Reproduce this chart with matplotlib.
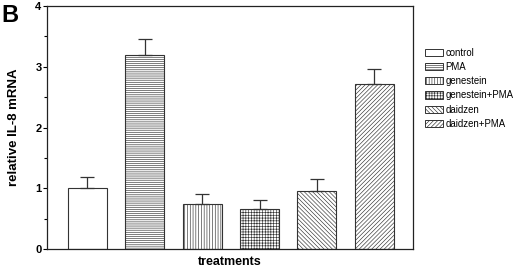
import numpy as np
import matplotlib
matplotlib.use('Agg')
import matplotlib.pyplot as plt
from matplotlib.patches import Patch

plt.rcParams['font.family'] = ['Liberation Sans', 'DejaVu Sans']
plt.rcParams['hatch.linewidth'] = 0.45

labels = ['control', 'PMA', 'genestein', 'genestein+PMA', 'daidzen', 'daidzen+PMA']
values = [1.00, 3.19, 0.74, 0.66, 0.95, 2.72]
errors = [0.18, 0.26, 0.16, 0.15, 0.20, 0.24]
hatches = ['', '--------', '||||||', '++++++', '\\\\\\\\\\\\\\\\', '////////']

fig = plt.figure(figsize=(5.2, 2.68), dpi=100)
ax = fig.add_axes([0.0904, 0.0709, 0.7036, 0.9067])

x = np.arange(len(values))
bars = ax.bar(x, values, width=0.68, color='white', edgecolor='#333333',
              linewidth=0.8, hatch=hatches)
ax.errorbar(x, values, yerr=[np.zeros(len(errors)), errors], fmt='none',
            ecolor='#333333', elinewidth=0.9, capsize=5, capthick=0.9)

ax.set_xlim(-0.70, 5.67)
ax.set_ylim(0, 4)
ax.set_yticks([0, 1, 2, 3, 4])
ax.set_yticks(np.arange(0.5, 4, 1), minor=True)
ax.set_xticks([])
ax.tick_params(axis='y', which='major', length=3, width=0.8, labelsize=8, pad=1)
ax.tick_params(axis='y', which='minor', length=2, width=0.8)
for lab in ax.get_yticklabels():
    lab.set_fontweight('bold')
for s in ax.spines.values():
    s.set_linewidth(0.9)
    s.set_color('#222222')

ax.set_ylabel('relative IL-8 mRNA', fontsize=9.5, fontweight='bold', labelpad=11)
ax.set_xlabel('treatments', fontsize=9, fontweight='bold', labelpad=5)

fig.text(0.002, 0.985, 'B', fontsize=17, fontweight='bold', va='top', ha='left')

handles = [Patch(facecolor='white', edgecolor='#333333', hatch=h, linewidth=0.7) for h in hatches]
fig.legend(handles, labels, loc='upper left', bbox_to_anchor=(0.818, 0.822),
           frameon=False, fontsize=6.9, handlelength=1.8, handleheight=0.8,
           handletextpad=0.3, labelspacing=0.44, borderpad=0, borderaxespad=0)

fig.savefig('out.png', dpi=100)
